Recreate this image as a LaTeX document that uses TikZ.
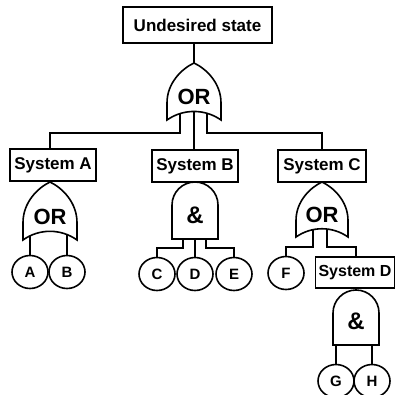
\documentclass[tikz,border=0pt]{standalone}
\usepackage{fontspec}
\setmainfont{Liberation Sans}
\usetikzlibrary{shapes.geometric}
\tikzset{
  wire/.style={line width=1.6pt},
  gateshape/.style={line width=1.6pt, fill=white, line join=miter},
  box/.style={draw, line width=1.6pt, fill=white, inner sep=0pt, font=\fontsize{17}{20}\selectfont\bfseries},
  leaf/.style={ellipse, draw, line width=1.6pt, fill=white, minimum width=36pt, minimum height=33pt, inner sep=0pt, font=\fontsize{15}{18}\selectfont\bfseries},
  gatelabel/.style={inner sep=0pt, font=\fontsize{22}{26}\selectfont\bfseries},
  andlabel/.style={inner sep=0pt, font=\fontsize{24}{28}\selectfont\bfseries},
}
% #1 cx, #2 top, #3 bottom, #4 half width
\newcommand\myORgate[4]{%
  \draw[gateshape] ({#1-#4},#3) -- ({#1-#4},{#3-0.3*(#3-#2)})
    .. controls ({#1-#4},{#2+0.35*(#3-#2)}) and ({#1-0.45*#4},{#2+0.1*(#3-#2)}) .. (#1,#2)
    .. controls ({#1+0.45*#4},{#2+0.1*(#3-#2)}) and ({#1+#4},{#2+0.35*(#3-#2)}) .. ({#1+#4},{#3-0.3*(#3-#2)})
    -- ({#1+#4},#3)
    .. controls ({#1+0.4*#4},{#3-0.2*(#3-#2)}) and ({#1-0.4*#4},{#3-0.2*(#3-#2)}) .. cycle;}
\newcommand\myANDgate[4]{%
  \draw[gateshape] ({#1-#4},#3) -- ({#1-#4},{#2+#4})
    .. controls ({#1-#4},{#2+0.448*#4}) and ({#1-0.552*#4},#2) .. (#1,#2)
    .. controls ({#1+0.552*#4},#2) and ({#1+#4},{#2+0.448*#4}) .. ({#1+#4},{#2+#4})
    -- ({#1+#4},#3) -- cycle;}
\begin{document}
\begin{tikzpicture}[x=1pt,y=-1pt]
\useasboundingbox (0,0) rectangle (395,394);

% boxes
\node[box, minimum width=149pt, minimum height=36pt] (top) at (197.5,25) {Undesired state};
\node[box, minimum width=86pt, minimum height=32pt] (sysA) at (53,165) {System A};
\node[box, minimum width=86pt, minimum height=32pt] (sysB) at (195,166) {System B};
\node[box, minimum width=88pt, minimum height=32pt] (sysC) at (322,166) {System C};
\node[box, minimum width=79pt, minimum height=31pt, font=\fontsize{16}{19}\selectfont\bfseries] (sysD) at (355,272.5) {System D};

% leaves
\node[leaf] (A) at (30,272) {A};
\node[leaf] (B) at (67,272) {B};
\node[leaf] (C) at (157,274) {C};
\node[leaf] (D) at (195,274) {D};
\node[leaf] (E) at (234,274) {E};
\node[leaf] (F) at (286,273) {F};
\node[leaf] (G) at (336,381) {G};
\node[leaf] (H) at (372,381) {H};

% gate coordinates
\coordinate (g0) at (194,63);
\coordinate (g0i1) at (180,106);
\coordinate (g0i2) at (194,106);
\coordinate (g0i3) at (207,106);
\coordinate (bus0) at (0,133);
\coordinate (gA) at (50,182);
\coordinate (gAi1) at (30,225);
\coordinate (gAi2) at (67,225);
\coordinate (gB) at (195,182);
\coordinate (gBi1) at (183,225);
\coordinate (gBi2) at (195,225);
\coordinate (gBi3) at (206,225);
\coordinate (busB) at (0,248);
\coordinate (gC) at (322,182);
\coordinate (gCi1) at (313,222);
\coordinate (gCi2) at (327,222);
\coordinate (busC) at (0,247);
\coordinate (gD) at (356,290);
\coordinate (gDi1) at (336,335);
\coordinate (gDi2) at (372,335);

% connectors
\draw[wire] (g0 |- top.south) -- (g0);
\draw[wire] (g0i1) -- (g0i1 |- bus0) -| (gA |- sysA.north);
\draw[wire] (g0i2) -- (g0i2 |- sysB.north);
\draw[wire] (g0i3) -- (g0i3 |- bus0) -| (sysC.north);
\draw[wire] (gA |- sysA.south) -- (gA);
\draw[wire] (gB |- sysB.south) -- (gB);
\draw[wire] (gC |- sysC.south) -- (gC);
\draw[wire] (gD |- sysD.south) -- (gD);
\draw[wire] (gAi1) -- (A.north);
\draw[wire] (gAi2) -- (B.north);
\draw[wire] (gBi1) -- (gBi1 |- busB) -| (C.north);
\draw[wire] (gBi2) -- (D.north);
\draw[wire] (gBi3) -- (gBi3 |- busB) -| (E.north);
\draw[wire] (gCi1) -- (gCi1 |- busC) -| (F.north);
\draw[wire] (gCi2) -- (gCi2 |- busC) -| (gD |- sysD.north);
\draw[wire] (gDi1) -- (G.north);
\draw[wire] (gDi2) -- (H.north);

% gates
\myORgate{194}{63}{120}{27}
\myORgate{50}{182}{240}{27}
\myANDgate{195}{182}{239}{23}
\myORgate{322}{182}{237}{26}
\myANDgate{356}{290}{345}{23}

% gate labels
\node[gatelabel] (l0) at (194,97) {OR};
\node[gatelabel] (lA) at (50,217) {OR};
\node[andlabel] (lB) at (195,215) {\&};
\node[gatelabel] (lC) at (322,215) {OR};
\node[andlabel] (lD) at (356,321) {\&};
\end{tikzpicture}
\end{document}
